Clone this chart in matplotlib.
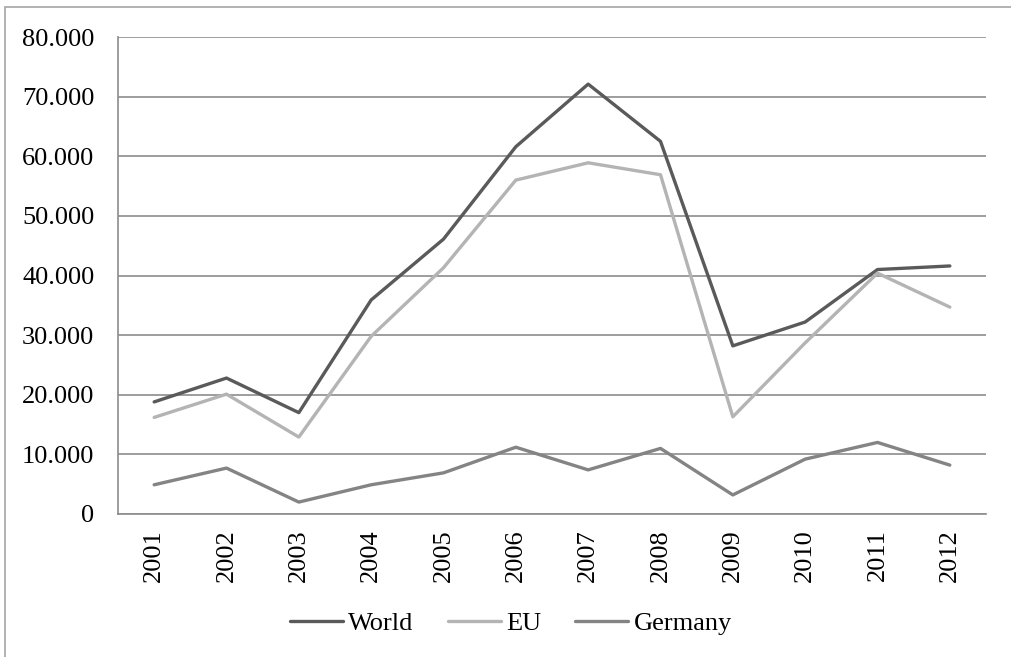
import matplotlib
matplotlib.use('Agg')
import matplotlib.pyplot as plt
from matplotlib.patches import Rectangle
from matplotlib.ticker import FuncFormatter

plt.rcParams['font.family'] = ['Liberation Serif', 'DejaVu Serif']

years = ['2001', '2002', '2003', '2004', '2005', '2006',
         '2007', '2008', '2009', '2010', '2011', '2012']
world = [18.8, 22.8, 17.0, 35.9, 46.1, 61.6, 72.1, 62.5, 28.2, 32.2, 41.0, 41.6]
eu = [16.2, 20.1, 12.9, 29.8, 41.3, 56.0, 58.9, 56.9, 16.3, 28.7, 40.4, 34.7]
germany = [4.9, 7.7, 2.0, 4.9, 6.9, 11.2, 7.4, 11.0, 3.2, 9.2, 12.0, 8.2]

fig = plt.figure(figsize=(10.12, 6.57), dpi=100)
ax = fig.add_axes([118/1012, 1-514/657, 868/1012, 477/657])

# outer chart border (left and top visible)
fig.patches.append(Rectangle((5/1012, -0.1), 1.2, 1.1 - 7/657,
                             transform=fig.transFigure, fill=False,
                             edgecolor='#a6a6a6', lw=1.2))

x = range(len(years))
ax.plot(x, world, color='#5a5a5a', lw=2.4, label='World', solid_capstyle='round')
ax.plot(x, eu, color='#b4b4b4', lw=2.4, label='EU', solid_capstyle='round')
ax.plot(x, germany, color='#848484', lw=2.4, label='Germany', solid_capstyle='round')

ax.set_xlim(-0.5, len(years) - 0.5)
ax.set_ylim(0, 80)
ax.set_yticks(range(0, 81, 10))
ax.yaxis.set_major_formatter(FuncFormatter(lambda v, p: '0' if v == 0 else f'{int(v)}.000'))
ax.set_xticks(list(x))
ax.set_xticklabels(years, rotation=90)
ax.grid(axis='y', color='#8c8c8c', lw=1.2)
ax.set_axisbelow(True)
ax.tick_params(length=0, labelsize=19, colors='black')
ax.tick_params(axis='y', pad=17)
ax.tick_params(axis='x', pad=11)
for s in ['top', 'right']:
    ax.spines[s].set_visible(False)
for s in ['left', 'bottom']:
    ax.spines[s].set_color('#8c8c8c')
    ax.spines[s].set_linewidth(1.2)

fig.legend(loc='center', bbox_to_anchor=(511/1012, 1-623/657), ncol=3,
           frameon=False, fontsize=19, handlelength=2.0, handletextpad=0.2,
           columnspacing=1.3)

fig.savefig('out.png', dpi=100)
